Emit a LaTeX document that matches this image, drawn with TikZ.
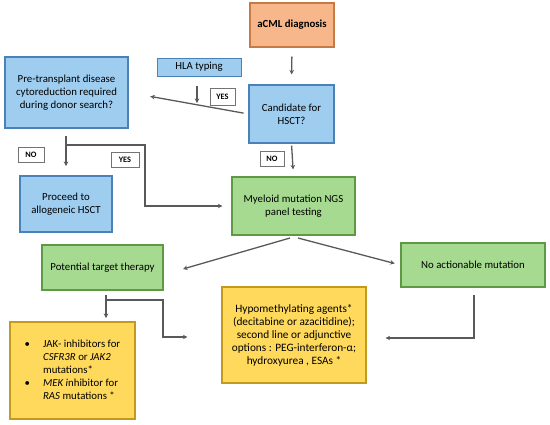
\documentclass[tikz,border=0pt]{standalone}
\usepackage{fontspec}
\setmainfont{Carlito}
\usetikzlibrary{arrows.meta,calc}
\definecolor{orfill}{HTML}{F7B78A}
\definecolor{ordraw}{HTML}{C87A45}
\definecolor{blfill}{HTML}{9ECDF0}
\definecolor{bldraw}{HTML}{4A82B8}
\definecolor{grfill}{HTML}{A6DA90}
\definecolor{grdraw}{HTML}{5E9A45}
\definecolor{yefill}{HTML}{FFD95C}
\definecolor{yedraw}{HTML}{C49A1C}
\definecolor{arrcol}{HTML}{595959}
\begin{document}
\begin{tikzpicture}[x=1pt,y=-1pt,
  box/.style={draw, line width=1.1pt, inner sep=2pt, align=center,
    font=\fontsize{10.8}{13}\selectfont},
  obox/.style={box, fill=orfill, draw=ordraw},
  bbox/.style={box, fill=blfill, draw=bldraw},
  gbox/.style={box, fill=grfill, draw=grdraw},
  ybox/.style={box, fill=yefill, draw=yedraw},
  lbl/.style={draw=black!55, fill=white, line width=0.6pt, inner sep=0pt,
    font=\fontsize{8.3}{9}\selectfont\bfseries},
  arr/.style={draw=arrcol, line width=1.3pt, -{Stealth[length=4.5pt,width=4.5pt]}},
  ln/.style={draw=arrcol, line width=1.3pt}
]
\path[use as bounding box] (0,0) rectangle (550,424);

\node[obox, minimum width=84pt, minimum height=44pt] (acml) at (292,25) {\textbf{aCML diagnosis}};
\node[bbox, minimum width=84pt, minimum height=18pt, line width=0.9pt] (hla) at (199,67) {HLA typing};
\node[bbox, minimum width=123pt, minimum height=71pt] (pre) at (66.5,92.5) {Pre-transplant disease\\cytoreduction required\\during donor search?};
\node[bbox, minimum width=85pt, minimum height=58pt] (cand) at (291.5,114) {Candidate for\\HSCT?};
\node[bbox, minimum width=92pt, minimum height=56pt] (proc) at (66,204) {Proceed to\\allogeneic HSCT};
\node[gbox, minimum width=123pt, minimum height=58pt] (myel) at (293.5,206) {Myeloid mutation NGS\\panel testing};
\node[gbox, minimum width=121pt, minimum height=45pt] (pot) at (102.5,267.5) {Potential target therapy};
\node[gbox, minimum width=144pt, minimum height=44pt] (noact) at (473,265) {No actionable mutation};
\node[ybox, minimum width=125pt, minimum height=97pt] (jak) at (72.5,370.5) {%
  \begin{tabular}{@{}l@{\hspace{13pt}}l@{}}
  \textbullet & JAK- inhibitors for\\
   & \textit{CSFR3R} or \textit{JAK2}\\
   & mutations*\\
  \textbullet & \textit{MEK i}nhibitor for\\
   & \textit{RAS} mutations *
  \end{tabular}};
\node[ybox, minimum width=144pt, minimum height=96pt, font=\fontsize{11.3}{13}\selectfont] (hypo) at (294,335) {Hypomethylating agents*\\(decitabine or azacitidine);\\second line or adjunctive\\options : PEG-interferon-α;\\hydroxyurea , ESAs *};

\node[lbl, minimum width=25pt, minimum height=17pt] (yes1) at (222.5,96.5) {YES};
\node[lbl, minimum width=26pt, minimum height=15pt] (no1) at (31,154.5) {NO};
\node[lbl, minimum width=28pt, minimum height=15pt] (yes2) at (125,159.5) {YES};
\node[lbl, minimum width=24pt, minimum height=15pt] (no2) at (272,158.5) {NO};

% connectors
\draw[arr, shorten <=9pt, shorten >=10pt] (acml.south) -- (cand.north);
\coordinate (hlaA) at (197,86);
\coordinate (hlaB) at (197,103);
\draw[arr] (hlaA) -- (hlaB);
\draw[arr, shorten <=5pt, shorten >=22pt] (cand.west) -- (pre.east);
\draw[arr, shorten <=2pt, shorten >=7pt] (cand.south) -- (myel.north);
\coordinate (preA) at (66,136);
\coordinate (preB) at (66,166);
\draw[arr] (preA) -- (preB);
\coordinate (j1) at (66,145);
\draw[arr, shorten >=9pt] (j1) -| (145,206) -- (myel.west);
\coordinate (m1) at (290,238);
\coordinate (m2) at (298,238);
\coordinate (potT) at (183,269);
\draw[arr] (m1) -- (potT);
\draw[arr, shorten >=6pt] (m2) -- (noact.west);
\coordinate (pA) at (106,295);
\coordinate (pB) at (106,318);
\draw[arr] (pA) -- (pB);
\coordinate (j2) at (106,300);
\draw[arr, shorten >=34pt] (j2) -| (163,337) -- (hypo.west |- 0,337);
\coordinate (nA) at (474,295);
\draw[arr, shorten >=19pt] (nA) |- (hypo.east |- 0,338);
\end{tikzpicture}
\end{document}
